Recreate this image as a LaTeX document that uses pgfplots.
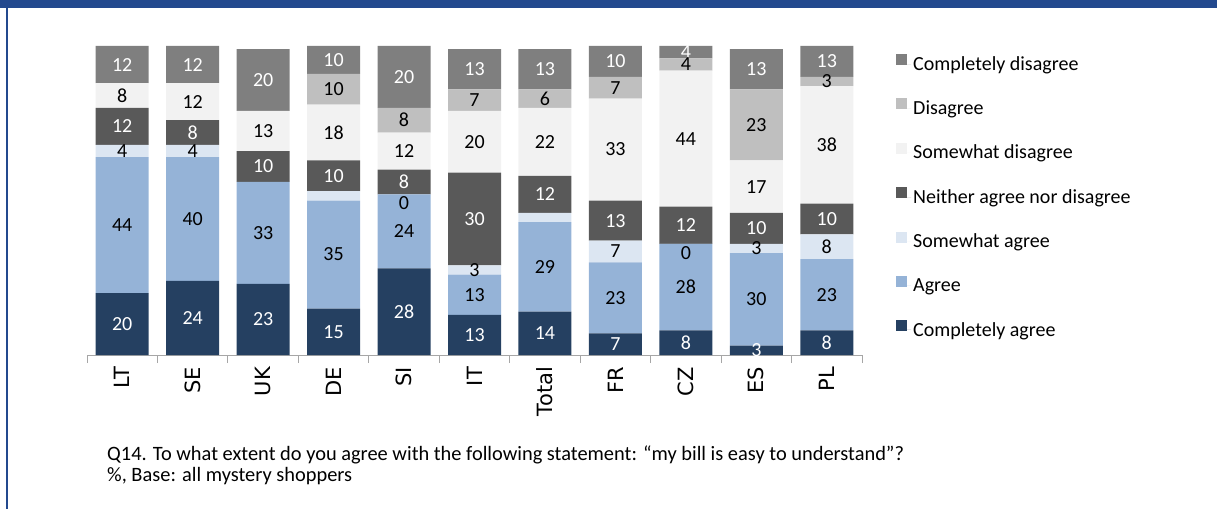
\documentclass[border=0pt]{standalone}
\usepackage{pgfplots}
\pgfplotsset{compat=1.18}
\usepackage{pgfplotstable}
\usepackage{fontspec}
\setmainfont{Carlito}
\newfontfamily\dejavu{DejaVu Sans}
\definecolor{cCA}{RGB}{37,64,97}
\definecolor{cAG}{RGB}{149,179,215}
\definecolor{cSA}{RGB}{220,230,242}
\definecolor{cNE}{RGB}{89,89,89}
\definecolor{cSD}{RGB}{242,242,242}
\definecolor{cDI}{RGB}{191,191,191}
\definecolor{cCD}{RGB}{127,127,127}
\definecolor{frameblue}{RGB}{35,73,142}
\definecolor{axgray}{RGB}{166,166,166}

% x: 0 LT, 1 SE, 2 UK, 3 DE, 4 SI, 5 IT, 6 Total, 7 FR, 8 CZ, 9 ES, 10 PL
\pgfplotstableread{
x y lab
0 20 20
1 24 24
2 23 23
3 15 15
4 28 28
5 13 13
6 14 14
7 7 7
8 8 8
9 3 3
10 8 8
}\tCA
\pgfplotstableread{
x y lab
0 44 44
1 40 40
2 33 33
3 35 35
4 24 24
5 13 13
6 29 29
7 23 23
8 28 28
9 30 30
10 23 23
}\tAG
\pgfplotstableread{
x y lab
0 4 4
1 4 4
2 0 {}
3 3 {}
4 0.001 0
5 3 3
6 3 {}
7 7 7
8 0.001 0
9 3 3
10 8 8
}\tSA
\pgfplotstableread{
x y lab
0 12 12
1 8 8
2 10 10
3 10 10
4 8 8
5 30 30
6 12 12
7 13 13
8 12 12
9 10 10
10 10 10
}\tNE
\pgfplotstableread{
x y lab
0 8 8
1 12 12
2 13 13
3 18 18
4 12 12
5 20 20
6 22 22
7 33 33
8 44 44
9 17 17
10 38 38
}\tSD
\pgfplotstableread{
x y lab
0 0 {}
1 0 {}
2 0 {}
3 10 10
4 8 8
5 7 7
6 6 6
7 7 7
8 4 4
9 23 23
10 3 3
}\tDI
% bars are cut at 100 in the source chart: DE and PL show their top part clipped
\pgfplotstableread{
x y lab
0 12 12
1 12 12
2 20 20
3 9 10
4 20 20
5 13 13
6 13 13
7 10 10
8 4 4
9 13 13
10 10 13
}\tCD

\pgfplotsset{
  seg/.style={fill=#1, draw=none},
  seglabel/.style={
    point meta=explicit symbolic,
    nodes near coords,
    visualization depends on={rawy\as\rawv},
    every node near coord/.append style={anchor=center,
      yshift={ifthenelse(\rawv<0.5,-9,0)*1pt},
      font=\fontsize{20}{22}\selectfont, text=#1, inner sep=0pt}
  }
}

\begin{document}
\begin{tikzpicture}
\path (0pt,0pt) rectangle (1217pt,509pt);
\fill[frameblue] (0pt,501pt) rectangle (1217pt,509pt);
\fill[frameblue] (6pt,0pt) rectangle (8pt,501pt);

\begin{axis}[
  at={(87pt,154pt)}, anchor=south west,
  scale only axis, width=775pt, height=309.03pt,
  ybar stacked, bar width=53pt,
  xmin=-0.5, xmax=10.5, ymin=0, ymax=100.01,
  axis x line*=bottom, axis y line=none,
  x axis line style={draw=axgray, line width=0.9pt},
  xtick={0,...,10},
  xticklabels={LT,SE,UK,DE,SI,IT,Total,FR,CZ,ES,PL},
  xticklabel style={rotate=90, anchor=east, font=\dejavu\fontsize{21}{23}\selectfont, inner sep=0pt, outer xsep=12pt},
  tick align=outside, xtick pos=bottom,
  major tick length=0pt,
  extra x ticks={-0.5,0.5,...,10.5},
  extra x tick labels={},
  extra x tick style={major tick length=8pt, tick style={draw=axgray, line width=0.9pt}},
  ytick=\empty,
  reverse legend,
  legend cell align=left,
  legend image code/.code={\fill[#1] (0pt,-1pt) rectangle (11pt,10pt); \path (0pt,0pt) -- (15pt,0pt);},
  legend style={at={(1.040,0.981)}, anchor=north west, draw=none, fill=none,
    font=\fontsize{20}{22}\selectfont, row sep=24.7pt},
]
\addplot[seg=cCA, seglabel=white] table[x=x,y=y,meta=lab] {\tCA};
\addplot[seg=cAG, seglabel=black] table[x=x,y=y,meta=lab] {\tAG};
\addplot[seg=cSA, seglabel=black] table[x=x,y=y,meta=lab] {\tSA};
\addplot[seg=cNE, seglabel=white] table[x=x,y=y,meta=lab] {\tNE};
\addplot[seg=cSD, seglabel=black] table[x=x,y=y,meta=lab] {\tSD};
\addplot[seg=cDI, seglabel=black] table[x=x,y=y,meta=lab] {\tDI};
\addplot[seg=cCD, seglabel=white] table[x=x,y=y,meta=lab] {\tCD};
\legend{Completely agree, Agree, Somewhat agree, Neither agree nor disagree, Somewhat disagree, Disagree, Completely disagree}
\end{axis}

\node[anchor=base west, inner sep=0pt, font=\fontsize{20.4}{22}\selectfont] at (107pt,49pt) {Q14. To what extent do you agree with the following statement: “my bill is easy to understand”?};
\node[anchor=base west, inner sep=0pt, font=\fontsize{20.4}{22}\selectfont] at (107pt,28pt) {\%, Base: all mystery shoppers};
\end{tikzpicture}
\end{document}
